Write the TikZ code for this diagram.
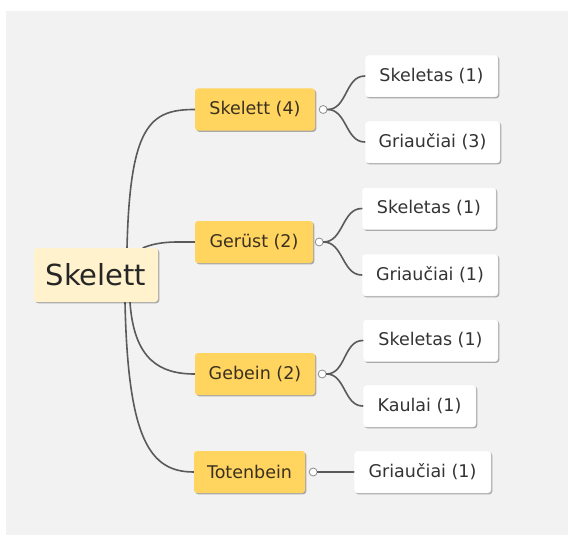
\documentclass[tikz,border=0pt]{standalone}
\usepackage{fontspec}
\setmainfont{DejaVu Sans}
\usetikzlibrary{shadows}
\definecolor{bggray}{HTML}{F2F2F2}
\definecolor{gold}{HTML}{FFD45F}
\definecolor{cream}{HTML}{FFF2CC}
\definecolor{linec}{HTML}{5A5A5A}
\definecolor{txt}{HTML}{333333}
\definecolor{txtb}{HTML}{3A3020}
\pgfdeclarelayer{back}\pgfdeclarelayer{bg}\pgfsetlayers{back,bg,main}
\begin{document}
\begin{tikzpicture}[x=1pt,y=-1pt,
  basebox/.style={rounded corners=3pt, inner sep=0pt, minimum height=42pt,
    drop shadow={shadow xshift=1.3pt, shadow yshift=-1.3pt, fill=black, opacity=0.3}},
  rootbox/.style={basebox, fill=cream, text=black!85, minimum height=54pt, minimum width=124pt,
    font=\fontsize{29}{32}\selectfont},
  midbox/.style={basebox, fill=gold, text=txtb, font=\fontsize{17.5}{20}\selectfont},
  leafbox/.style={basebox, fill=white, draw=black!7, text=txt, font=\fontsize{17.5}{20}\selectfont},
  knob/.style={circle, draw=black!45, fill=white, line width=0.8pt, minimum size=8pt, inner sep=0pt},
  conn/.style={draw=linec, line width=1.6pt, line cap=round}]
\useasboundingbox (0,0) rectangle (568,535);
\begin{pgfonlayer}{back}
\fill[white] (0,0) rectangle (568,535);
\fill[bggray] (6,11) rectangle (568,535);
\end{pgfonlayer}

\node[rootbox] (root) at (96,275) {Skelett};

\node[midbox, minimum width=120pt] (A) at (255,109.5) {Skelett (4)};
\node[midbox, minimum width=118pt] (B) at (254,242) {Gerüst (2)};
\node[midbox, minimum width=120pt] (C) at (255,374) {Gebein (2)};
\node[midbox, minimum width=111pt] (D) at (249.5,472) {Totenbein};

\node[leafbox, minimum width=133pt] (A1) at (431.5,76) {Skeletas (1)};
\node[leafbox, minimum width=135pt] (A2) at (432.5,142) {Griaučiai (3)};
\node[leafbox, minimum width=134pt] (B1) at (429,208.5) {Skeletas (1)};
\node[leafbox, minimum width=136pt] (B2) at (430,275) {Griaučiai (1)};
\node[leafbox, minimum width=135pt] (C1) at (430.5,340.5) {Skeletas (1)};
\node[leafbox, minimum width=113pt] (C2) at (419.5,406) {Kaulai (1)};
\node[leafbox, minimum width=137pt] (D1) at (422.5,472) {Griaučiai (1)};

\node[knob] (ka) at ([xshift=8pt]A.east) {};
\node[knob] (kb) at ([xshift=6pt]B.east) {};
\node[knob] (kc) at ([xshift=7pt]C.east) {};
\node[knob] (kd) at ([xshift=8pt]D.east) {};

\begin{pgfonlayer}{bg}
\draw[conn] ([xshift=31pt]root.north) .. controls (130,125) and (150,109.5) .. (A.west);
\draw[conn] ([xshift=47pt]root.north) .. controls (160,241) and (175,242) .. (B.west);
\draw[conn] ([xshift=34pt]root.south) .. controls (134,360) and (160,374) .. (C.west);
\draw[conn] ([xshift=29pt]root.south) .. controls (128,440) and (150,472) .. (D.west);
\end{pgfonlayer}

\draw[conn] (ka.east) to[out=0,in=180] (A1.west);
\draw[conn] (ka.east) to[out=0,in=180] (A2.west);
\draw[conn] (kb.east) to[out=0,in=180] (B1.west);
\draw[conn] (kb.east) to[out=0,in=180] (B2.west);
\draw[conn] (kc.east) to[out=0,in=180] (C1.west);
\draw[conn] (kc.east) to[out=0,in=180] (C2.west);
\draw[conn] (kd.east) -- (D1.west);
\end{tikzpicture}
\end{document}
